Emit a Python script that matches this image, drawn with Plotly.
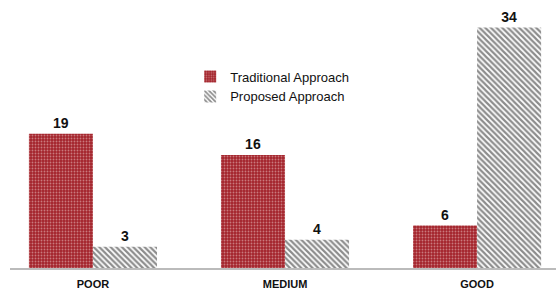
import plotly.graph_objects as go

categories = ["POOR", "MEDIUM", "GOOD"]
traditional = [19, 16, 6]
proposed = [3, 4, 34]

fig = go.Figure()
fig.add_trace(go.Bar(
    x=categories, y=traditional, name="Traditional Approach",
    marker=dict(color="#a3232b", line=dict(width=0),
                pattern=dict(shape=".", fgcolor="#f0d0d0", bgcolor="#a3232b",
                             size=3, solidity=0.3, fillmode="overlay")),
    text=traditional, textposition="outside",
    textfont=dict(family="Liberation Sans", size=14, color="#111111", weight="bold"),
    cliponaxis=False,
))
fig.add_trace(go.Bar(
    x=categories, y=proposed, name="Proposed Approach",
    marker=dict(color="#ffffff", line=dict(width=0),
                pattern=dict(shape="\\", fgcolor="#1a1a1a", bgcolor="#ffffff",
                             size=4, solidity=0.55, fillmode="overlay")),
    text=proposed, textposition="outside",
    textfont=dict(family="Liberation Sans", size=14, color="#111111", weight="bold"),
    cliponaxis=False,
))

fig.update_layout(
    width=556, height=293,
    margin=dict(l=10, r=0, t=5, b=25),
    plot_bgcolor="white", paper_bgcolor="white",
    barmode="group", bargap=0.333, bargroupgap=0,
    showlegend=True,
    legend=dict(x=0.33, y=0.785, xanchor="left", yanchor="top",
                font=dict(family="Liberation Sans", size=13, color="#111111"),
                bgcolor="rgba(0,0,0,0)", itemwidth=30, tracegroupgap=0),
    font=dict(family="Liberation Sans"),
)
fig.update_xaxes(
    range=[-0.432, 2.411], showline=True, linecolor="#bbbbbb", linewidth=1.5,
    ticks="", showgrid=False, ticklabelstandoff=5,
    tickfont=dict(family="Liberation Sans", size=11, color="#111111", weight="bold"),
)
fig.update_yaxes(range=[0, 37.2], visible=False, showgrid=False, zeroline=False)

fig.write_html("out.html", config={"displayModeBar": False},
               post_script="document.body.style.margin='0px';")
